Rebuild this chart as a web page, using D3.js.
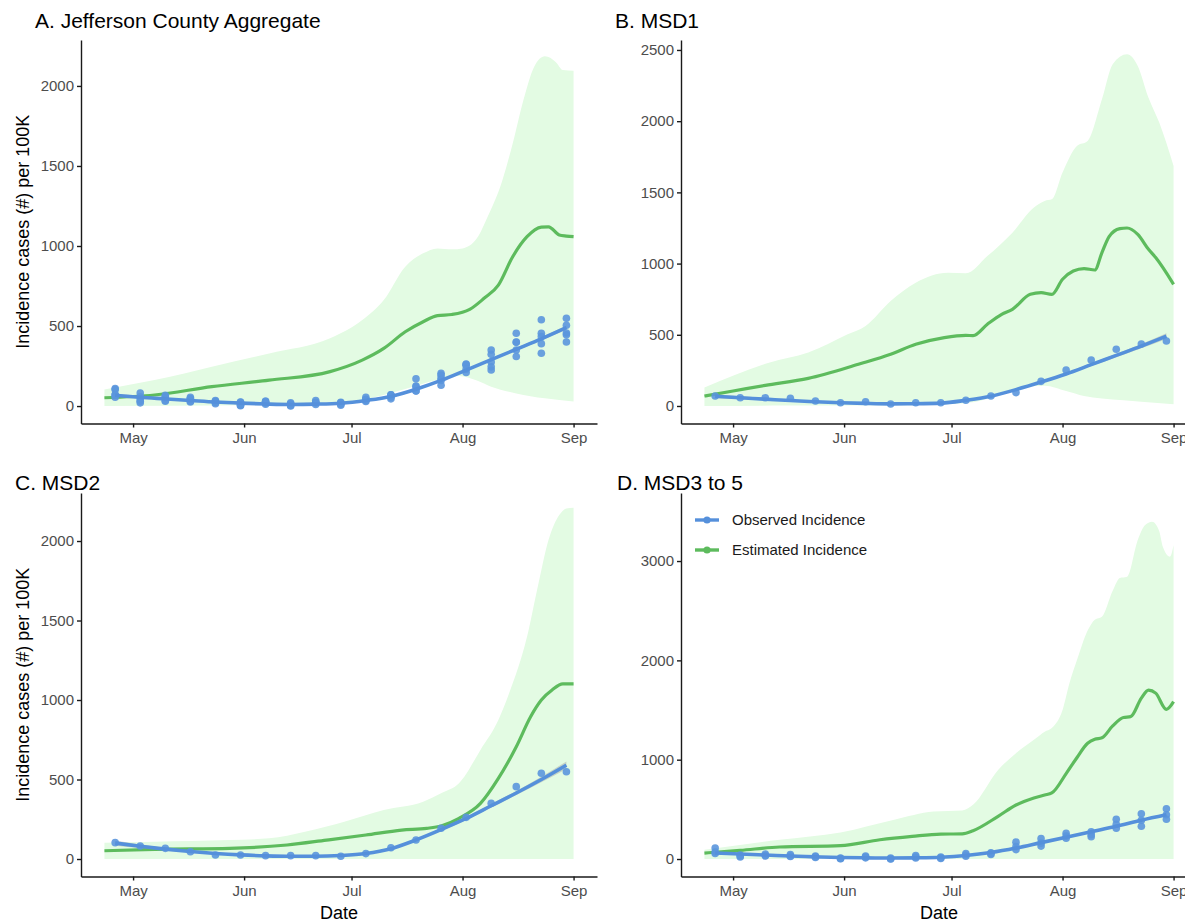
<!DOCTYPE html>
<html lang="en">
<head>
<meta charset="utf-8">
<script src="https://d3js.org/d3.v7.min.js"></script>
<style>
  body { margin: 0; background: #fff; font-family: "Liberation Sans", Arial, Helvetica, sans-serif; }
  svg { display: block; overflow: hidden; }
  .tick text { fill: #4d4d4d; font-size: 15px; font-family: "Liberation Sans", Arial, sans-serif; }
  .domain, .tick line { stroke: #1a1a1a; stroke-width: 1.4; }
  .title { font-size: 21px; fill: #000; }
  .axis-title { font-size: 18px; fill: #000; }
  .legend text { font-size: 15px; fill: #1a1a1a; }
</style>
</head>
<body>
<script>
// weekly observation dates (Sundays)
var obsDates = ["2020-04-26","2020-05-03","2020-05-10","2020-05-17","2020-05-24","2020-05-31","2020-06-07",
  "2020-06-14","2020-06-21","2020-06-28","2020-07-05","2020-07-12","2020-07-19","2020-07-26",
  "2020-08-02","2020-08-09","2020-08-16","2020-08-23","2020-08-30"];

// observed incidence per 100K, by sewershed district
var msd1 = [70,58,58,54,35,23,30,14,23,23,40,70,94,173,253,323,398,435,456];
var msd2 = [103,82,67,46,25,25,21,21,21,17,34,71,120,193,262,350,455,539,549];
var msd3 = [110,40,50,45,30,10,30,10,35,20,55,62,170,205,260,275,400,455,505];
var msd4 = [70,30,35,30,22,5,20,3,20,12,40,55,125,160,230,245,350,390,445];
var msd5 = [55,20,30,25,15,2,12,0,10,5,28,45,95,130,210,225,310,330,400];

// smoothed observed trend and its standard error
var trendA = [68,55,45,35,25,18,13,10,12,18,35,60,105,160,225,290,355,420,490];
var trendB = [68,58,48,38,30,23,18,15,16,20,40,68,115,168,225,290,355,420,490];
var trendC = [100,80,62,47,35,26,20,17,17,22,35,65,120,185,255,335,415,500,590];
var trendD = [60,50,40,30,22,15,12,10,12,18,35,65,110,165,220,275,330,390,445];
var seA = [10,7,5,4,4,4,4,4,4,4,4,4,5,5,6,7,8,10,14];
var seB = [14,10,8,6,5,5,5,5,5,5,5,6,7,8,9,10,12,15,20];
var seC = [16,11,8,6,5,5,5,5,5,5,5,6,7,8,9,11,13,17,24];
var seD = [10,7,5,4,4,4,4,4,4,4,4,4,5,5,6,7,8,10,13];

// estimated incidence [date, value] and its interval
var estA = [["2020-04-23",52],["2020-05-07",69],["2020-05-23",121],["2020-06-08",162],["2020-06-25",215],
  ["2020-07-04",287],["2020-07-10",360],["2020-07-16",464],["2020-07-21",527],["2020-07-25",565],
  ["2020-07-29",572],["2020-08-03",604],["2020-08-07",673],["2020-08-11",756],["2020-08-15",933],
  ["2020-08-19",1058],["2020-08-23",1118],["2020-08-25",1120],["2020-08-28",1069],["2020-08-30",1062],["2020-09-01",1058]];
var hiA = [["2020-04-23",104],["2020-05-07",162],["2020-05-23",246],["2020-06-08",329],["2020-06-25",423],
  ["2020-07-04",537],["2020-07-10",662],["2020-07-16",871],["2020-07-21",954],["2020-07-25",985],
  ["2020-07-29",979],["2020-08-01",985],["2020-08-05",1048],["2020-08-08",1183],["2020-08-12",1402],
  ["2020-08-15",1641],["2020-08-18",1912],["2020-08-21",2120],["2020-08-24",2185],["2020-08-27",2150],
  ["2020-08-29",2100],["2020-09-01",2095]];
var loA = [["2020-04-23",0],["2020-06-01",5],["2020-07-01",30],["2020-07-15",100],["2020-07-25",165],
  ["2020-07-31",188],["2020-08-05",160],["2020-08-09",121],["2020-08-16",79],["2020-08-24",48],["2020-09-01",28]];

var estB = [["2020-04-23",70],["2020-05-01",105],["2020-05-10",145],["2020-05-22",194],["2020-06-05",293],
  ["2020-06-14",363],["2020-06-21",433],["2020-06-29",480],["2020-07-05",496],["2020-07-07",494],
  ["2020-07-11",574],["2020-07-15",644],["2020-07-18",679],["2020-07-23",784],["2020-07-26",796],
  ["2020-07-29",784],["2020-08-01",890],["2020-08-04",948],["2020-08-07",965],["2020-08-10",955],
  ["2020-08-12",1077],["2020-08-14",1189],["2020-08-17",1245],["2020-08-19",1250],["2020-08-22",1205],
  ["2020-08-25",1100],["2020-08-27",1042],["2020-09-01",854]];
var hiB = [["2020-04-23",129],["2020-05-11",304],["2020-05-22",375],["2020-06-02",503],["2020-06-07",562],
  ["2020-06-14",737],["2020-06-21",866],["2020-06-30",936],["2020-07-05",932],["2020-07-11",1053],
  ["2020-07-18",1217],["2020-07-24",1393],["2020-07-27",1440],["2020-07-29",1451],["2020-08-01",1639],
  ["2020-08-05",1826],["2020-08-08",1861],["2020-08-12",2154],["2020-08-15",2400],["2020-08-19",2470],
  ["2020-08-22",2388],["2020-08-25",2165],["2020-08-28",1990],["2020-09-01",1686]];
var loB = [["2020-04-23",0],["2020-05-15",3],["2020-06-15",5],["2020-07-05",20],["2020-07-15",80],
  ["2020-07-22",135],["2020-07-27",142],["2020-08-02",105],["2020-08-07",70],["2020-08-12",52],
  ["2020-08-18",40],["2020-08-23",30],["2020-09-01",12]];

var estC = [["2020-04-23",52],["2020-05-07",61],["2020-05-28",67],["2020-06-13",88],["2020-06-24",119],
  ["2020-07-05",151],["2020-07-15",182],["2020-07-22",193],["2020-07-26",208],["2020-07-31",256],
  ["2020-08-06",350],["2020-08-11",507],["2020-08-16",706],["2020-08-20",895],["2020-08-23",1000],
  ["2020-08-26",1063],["2020-08-29",1101],["2020-09-01",1101]];
var hiC = [["2020-04-23",103],["2020-05-07",109],["2020-05-28",119],["2020-06-08",130],["2020-06-18",172],
  ["2020-06-29",235],["2020-07-10",308],["2020-07-21",360],["2020-07-26",413],["2020-07-31",476],
  ["2020-08-06",686],["2020-08-11",874],["2020-08-14",1042],["2020-08-19",1398],["2020-08-22",1713],
  ["2020-08-25",2006],["2020-08-28",2163],["2020-08-30",2205],["2020-09-01",2210]];
var loC = [["2020-04-23",0],["2020-09-01",0]];

var estD = [["2020-04-23",60],["2020-05-03",87],["2020-05-14",121],["2020-05-31",134],["2020-06-11",194],
  ["2020-06-20",228],["2020-06-28",251],["2020-07-04",253],["2020-07-07",285],["2020-07-14",430],
  ["2020-07-19",544],["2020-07-24",615],["2020-07-27",644],["2020-07-29",665],["2020-08-02",860],
  ["2020-08-05",1020],["2020-08-08",1165],["2020-08-10",1205],["2020-08-12",1220],["2020-08-15",1340],
  ["2020-08-18",1425],["2020-08-20",1433],["2020-08-23",1620],["2020-08-25",1700],["2020-08-27",1670],
  ["2020-08-30",1507],["2020-09-01",1584]];
var hiD = [["2020-04-23",94],["2020-05-14",194],["2020-05-31",268],["2020-06-15",396],["2020-06-26",479],
  ["2020-07-04",489],["2020-07-07",546],["2020-07-14",896],["2020-07-19",1066],["2020-07-24",1200],
  ["2020-07-27",1282],["2020-07-29",1319],["2020-08-01",1500],["2020-08-03",1780],["2020-08-05",2000],
  ["2020-08-08",2300],["2020-08-10",2410],["2020-08-12",2440],["2020-08-15",2700],["2020-08-17",2829],
  ["2020-08-19",2842],["2020-08-22",3211],["2020-08-24",3360],["2020-08-26",3396],["2020-08-28",3300],
  ["2020-08-29",3144],["2020-08-31",3044],["2020-09-01",3161]];
var loD = [["2020-04-23",0],["2020-09-01",0]];

var titles = ["A. Jefferson County Aggregate", "B. MSD1", "C. MSD2", "D. MSD3 to 5"];
var monthTicks = ["2020-05-01","2020-06-01","2020-07-01","2020-08-01","2020-09-01"];
var yTicksA = [0,500,1000,1500,2000];
var yTicksB = [0,500,1000,1500,2000,2500];
var yTicksC = [0,500,1000,1500,2000];
var yTicksD = [0,1000,2000,3000];
var legendLabels = ["Observed Incidence", "Estimated Incidence"];
var xDomain = ["2020-04-16T11:00", "2020-09-07T13:00"];

var blue = "#5590db", bluePt = "#5b96dd", green = "#5dbb5d", bandFill = "#e3fbe3";

var parse = d3.utcParse("%Y-%m-%d");
var parseT = d3.utcParse("%Y-%m-%dT%H:%M");

var panels = [
  {title: titles[0], obs: [msd1, msd2, msd3, msd4, msd5], trend: trendA, se: seA, est: estA, hi: hiA, lo: loA,
   yTicks: yTicksA, yDomain: [-109, 2287], x0: 81, y0: 40, titleX: 35, titleY: 28, yTitle: true, xTitle: false},
  {title: titles[1], obs: [msd1], trend: trendB, se: seB, est: estB, hi: hiB, lo: loB,
   yTicks: yTicksB, yDomain: [-123, 2570], x0: 681, y0: 40, titleX: 615, titleY: 28, yTitle: false, xTitle: false},
  {title: titles[2], obs: [msd2], trend: trendC, se: seC, est: estC, hi: hiC, lo: loC,
   yTicks: yTicksC, yDomain: [-110, 2302], x0: 81, y0: 493, titleX: 15, titleY: 490, yTitle: true, xTitle: true},
  {title: titles[3], obs: [msd3, msd4, msd5], trend: trendD, se: seD, est: estD, hi: hiD, lo: loD,
   yTicks: yTicksD, yDomain: [-176, 3685], x0: 681, y0: 493, titleX: 617, titleY: 490, yTitle: false, xTitle: true, legend: true}
];

var plotW = 516, plotH = 383.5;

var svg = d3.select("body").append("svg")
  .attr("width", 1185)
  .attr("height", 921);

panels.forEach(function(p) {
  var x = d3.scaleUtc().domain(xDomain.map(parseT)).range([0, plotW]);
  var y = d3.scaleLinear().domain(p.yDomain).range([plotH, 0]);

  var g = svg.append("g").attr("transform", "translate(" + p.x0 + "," + p.y0 + ")");

  var line = d3.line()
    .x(function(d) { return x(parse(d[0])); })
    .y(function(d) { return y(d[1]); })
    .curve(d3.curveMonotoneX);

  // interval band: upper edge forward, lower edge back
  var upper = line(p.hi);
  var lowerRev = line(p.lo.slice().reverse());
  g.append("path")
    .attr("d", upper + "L" + lowerRev.slice(1) + "Z")
    .attr("fill", bandFill);

  // estimated incidence
  g.append("path")
    .attr("d", line(p.est))
    .attr("fill", "none")
    .attr("stroke", green)
    .attr("stroke-width", 3.2);

  // standard error ribbon of observed trend
  var trendRows = obsDates.map(function(d, i) { return {date: parse(d), v: p.trend[i], se: p.se[i]}; });
  g.append("path")
    .datum(trendRows)
    .attr("d", d3.area()
      .x(function(d) { return x(d.date); })
      .y0(function(d) { return y(d.v - d.se); })
      .y1(function(d) { return y(d.v + d.se); })
      .curve(d3.curveMonotoneX))
    .attr("fill", "#999")
    .attr("opacity", 0.4);

  // observed points
  p.obs.forEach(function(series) {
    g.selectAll(null)
      .data(series)
      .enter()
      .append("circle")
      .attr("cx", function(d, i) { return x(parse(obsDates[i])); })
      .attr("cy", function(d) { return y(d); })
      .attr("r", 3.8)
      .attr("fill", bluePt)
      .attr("opacity", 0.9);
  });

  // observed trend
  g.append("path")
    .datum(trendRows)
    .attr("d", d3.line()
      .x(function(d) { return x(d.date); })
      .y(function(d) { return y(d.v); })
      .curve(d3.curveMonotoneX))
    .attr("fill", "none")
    .attr("stroke", blue)
    .attr("stroke-width", 3.6);

  // axes
  g.append("g")
    .attr("transform", "translate(0," + plotH + ")")
    .call(d3.axisBottom(x)
      .tickValues(monthTicks.map(parse))
      .tickFormat(d3.utcFormat("%b"))
      .tickSize(4).tickSizeOuter(0).tickPadding(5));

  g.append("g")
    .call(d3.axisLeft(y)
      .tickValues(p.yTicks)
      .tickFormat(d3.format("d"))
      .tickSize(4).tickSizeOuter(0).tickPadding(3));

  // panel title
  svg.append("text")
    .attr("class", "title")
    .attr("x", p.titleX)
    .attr("y", p.titleY)
    .text(p.title);

  if (p.yTitle) {
    g.append("text")
      .attr("class", "axis-title")
      .attr("transform", "translate(-52," + (plotH / 2) + ") rotate(-90)")
      .attr("text-anchor", "middle")
      .text("Incidence cases (#) per 100K");
  }
  if (p.xTitle) {
    g.append("text")
      .attr("class", "axis-title")
      .attr("x", plotW / 2)
      .attr("y", plotH + 42)
      .attr("text-anchor", "middle")
      .text("Date");
  }

  if (p.legend) {
    var leg = g.append("g")
      .attr("class", "legend")
      .selectAll("g")
      .data(legendLabels)
      .enter()
      .append("g")
      .attr("transform", function(d, i) { return "translate(14," + (27 + i * 30) + ")"; });
    leg.append("line")
      .attr("x1", 0).attr("x2", 24)
      .attr("stroke", function(d, i) { return i === 0 ? blue : green; })
      .attr("stroke-width", 3.4);
    leg.append("circle")
      .attr("cx", 12).attr("r", 3.6)
      .attr("fill", function(d, i) { return i === 0 ? blue : green; });
    leg.append("text")
      .attr("x", 37)
      .attr("dy", "0.35em")
      .text(function(d) { return d; });
  }
});
</script>
</body>
</html>
